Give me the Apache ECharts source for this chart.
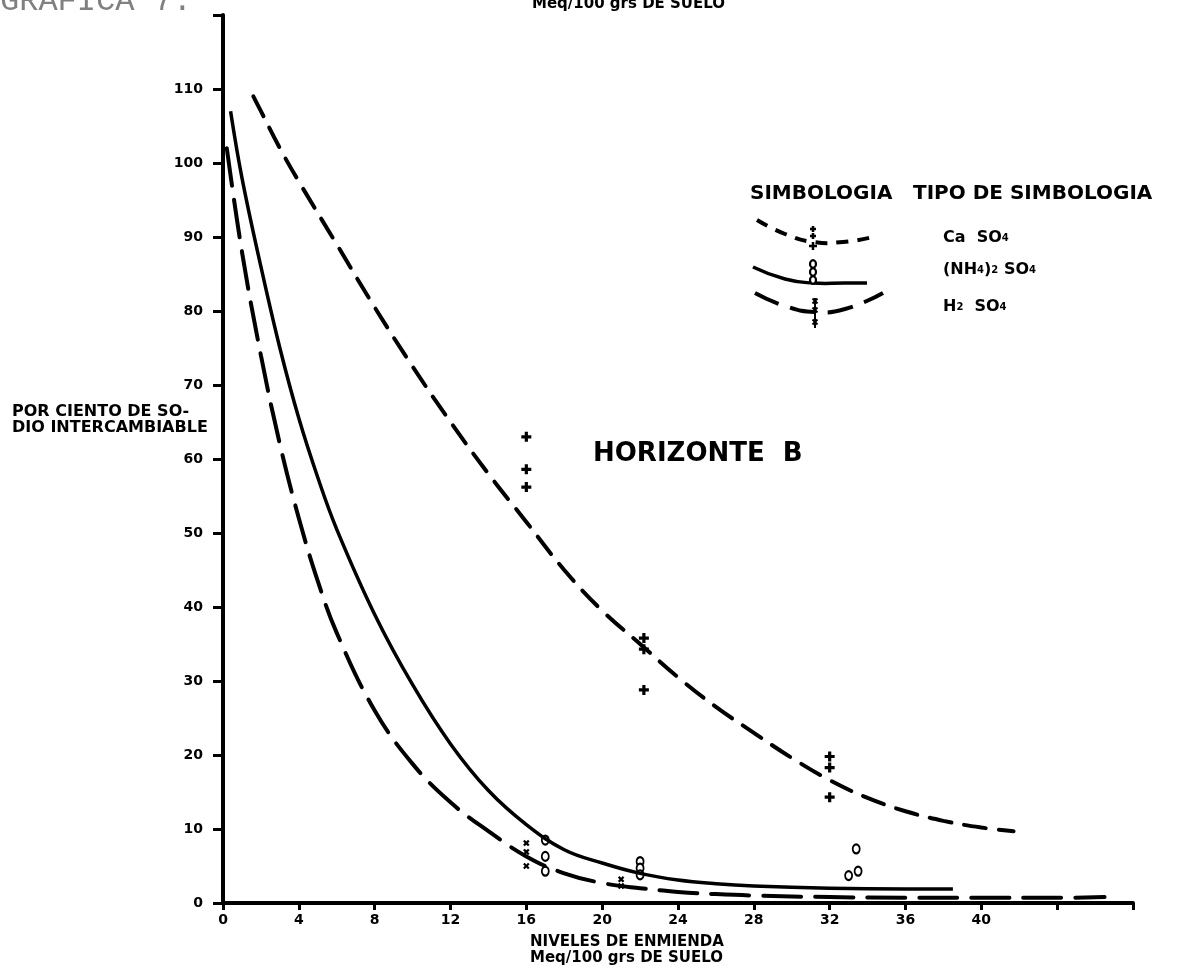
<!DOCTYPE html>
<html>
<head>
<meta charset="utf-8">
<script src="https://cdn.jsdelivr.net/npm/echarts@6/dist/echarts.min.js"></script>
<style>
  html, body { margin: 0; padding: 0; background: #fff; }
  #chart { width: 1194px; height: 975px; }
</style>
</head>
<body>
<div id="chart"></div>
<script>
// tick labels shown on the axes
const xTicks = [0, 4, 8, 12, 16, 20, 24, 28, 32, 36, 40];
const yTicks = [0, 10, 20, 30, 40, 50, 60, 70, 80, 90, 100, 110];

// fitted curves: [nivel de enmienda, % sodio]
const caCurve = [[1.6, 109], [2, 107], [3, 102], [4, 97.5], [6, 89], [8, 80.5], [10, 72.5], [12, 65], [14, 58], [16, 51.5], [18, 45], [20, 39.5], [22, 35], [24, 30.5], [26, 26.5], [28, 23], [30, 19.6], [32, 16.6], [34, 14.2], [36, 12.4], [38, 11.1], [40, 10.2], [41.7, 9.7]];
const nhCurve = [[0.4, 107], [1, 98], [2, 86], [3, 75], [4, 65.5], [5, 57.5], [6, 50.5], [8, 39], [10, 29.5], [12, 21.5], [14, 15.2], [16, 10.6], [18, 7.2], [20, 5.4], [22, 4.0], [24, 3.1], [26, 2.6], [28, 2.3], [32, 2.0], [36, 1.9], [38.5, 1.9]];
const h2Curve = [[0.2, 102], [1, 88], [2, 74], [3, 62], [4, 52], [5, 43.5], [6, 36.5], [8, 26], [10, 18.8], [12, 13.6], [14, 9.7], [16, 6.3], [18, 4.0], [20, 2.7], [22, 2.0], [24, 1.5], [26, 1.2], [28, 1.0], [32, 0.8], [36, 0.7], [40, 0.7], [44, 0.7], [46.5, 0.8]];

// measured points
const caPoints = [[16, 63], [16, 58.6], [16, 56.2], [22.2, 35.8], [22.2, 34.3], [22.2, 28.8], [32, 19.8], [32, 18.3], [32, 14.3]];
const nhPoints = [[17, 8.5], [17, 6.3], [17, 4.3], [22, 5.6], [22, 4.7], [22, 3.8], [33.4, 7.3], [33, 3.7], [33.5, 4.3]];
const h2Points = [[16, 8.1], [16, 6.9], [16, 5.0], [21, 3.2], [21, 2.3]];

const FONT = "DejaVu Sans";
const PLUS = "path://M-1.6,-5L1.6,-5L1.6,-1.6L5,-1.6L5,1.6L1.6,1.6L1.6,5L-1.6,5L-1.6,1.6L-5,1.6L-5,-1.6L-1.6,-1.6Z";

function txt(x, y, text, size, extra) {
  return {
    type: "text", x: x, y: y,
    style: Object.assign({
      text: text, fontFamily: FONT, fontWeight: "bold", fontSize: size,
      fill: "#000", align: "left", verticalAlign: "middle"
    }, extra || {})
  };
}
function plusMark(x, y, s) {
  return { type: "group", x: x, y: y, children: [
    { type: "line", shape: { x1: -s, y1: 0, x2: s, y2: 0 }, style: { stroke: "#000", lineWidth: 2.5 } },
    { type: "line", shape: { x1: 0, y1: -s, x2: 0, y2: s }, style: { stroke: "#000", lineWidth: 2.5 } }
  ] };
}
function xMark(x, y, s) {
  return { type: "group", x: x, y: y, children: [
    { type: "line", shape: { x1: -s, y1: -s, x2: s, y2: s }, style: { stroke: "#000", lineWidth: 2 } },
    { type: "line", shape: { x1: -s, y1: s, x2: s, y2: -s }, style: { stroke: "#000", lineWidth: 2 } }
  ] };
}
function oMark(x, y) {
  return { type: "ellipse", shape: { cx: x, cy: y, rx: 3, ry: 3.8 }, style: { fill: "#fff", stroke: "#000", lineWidth: 2.2 } };
}
const sub = { fontFamily: FONT, fontWeight: "bold", fontSize: 10, fill: "#000" };
const big = { fontFamily: FONT, fontWeight: "bold", fontSize: 16, fill: "#000" };

const chart = echarts.init(document.getElementById("chart"));
const option = {
  backgroundColor: "#fff",
  animation: false,
  grid: { left: 223, right: 61, top: 15, bottom: 72 },
  xAxis: {
    type: "value", min: 0, max: 48, interval: 4,
    axisLine: { lineStyle: { color: "#000", width: 4 } },
    axisTick: { length: 7, lineStyle: { color: "#000", width: 3 } },
    axisLabel: {
      margin: 10, color: "#000", fontFamily: FONT, fontWeight: "bold", fontSize: 14,
      formatter: function (v) { return xTicks.indexOf(v) >= 0 ? String(v) : ""; }
    },
    splitLine: { show: false }
  },
  yAxis: {
    type: "value", min: 0, max: 120, interval: 10,
    axisLine: { show: true, lineStyle: { color: "#000", width: 4 } },
    axisTick: { show: true, length: 10, lineStyle: { color: "#000", width: 3 } },
    axisLabel: {
      margin: 20, color: "#000", fontFamily: FONT, fontWeight: "bold", fontSize: 14,
      formatter: function (v) { return yTicks.indexOf(v) >= 0 ? String(v) : ""; }
    },
    splitLine: { show: false }
  },
  series: [
    { name: "Ca SO4", type: "line", data: caCurve, smooth: 0.4, showSymbol: false,
      lineStyle: { color: "#000", width: 4, type: [22, 13], cap: "round" } },
    { name: "(NH4)2 SO4", type: "line", data: nhCurve, smooth: 0.4, showSymbol: false,
      lineStyle: { color: "#000", width: 3.5 } },
    { name: "H2 SO4", type: "line", data: h2Curve, smooth: 0.4, showSymbol: false,
      lineStyle: { color: "#000", width: 4, type: [38, 14], cap: "round" } },
    { name: "Ca SO4 puntos", type: "scatter", data: caPoints, symbol: PLUS, symbolSize: 10,
      itemStyle: { color: "#000", opacity: 1 } },
    { name: "(NH4)2 SO4 puntos", type: "scatter", data: nhPoints, symbol: "emptyCircle", symbolSize: [7, 9],
      itemStyle: { color: "#000", borderColor: "#000", borderWidth: 2.2, opacity: 1 } },
    { name: "H2 SO4 puntos", type: "scatter", data: h2Points, symbol: PLUS, symbolSize: 7, symbolRotate: 45,
      itemStyle: { color: "#000", opacity: 1 } }
  ],
  graphic: [
    txt(0, 2, "GRAFICA 7.", 32, { fontFamily: "Liberation Mono", fontWeight: "normal", fill: "#808080" }),
    txt(532, 4, "Meq/100 grs DE SUELO", 15),
    txt(12, 412, "POR CIENTO DE SO-", 16),
    txt(12, 428, "DIO INTERCAMBIABLE", 16),
    txt(530, 942, "NIVELES DE ENMIENDA", 15),
    txt(530, 958, "Meq/100 grs DE SUELO", 15),
    txt(593, 454, "HORIZONTE  B", 26),
    txt(750, 194, "SIMBOLOGIA", 20),
    txt(913, 194, "TIPO DE SIMBOLOGIA", 20),
    // legend samples
    { type: "polyline", shape: { points: [[757, 220], [785, 234], [813, 242], [843, 242], [873, 237]], smooth: 0.5 },
      style: { stroke: "#000", lineWidth: 4, lineDash: [12, 9], fill: null } },
    plusMark(813, 229, 3), plusMark(813, 236, 3), plusMark(813, 246, 4),
    { type: "polyline", shape: { points: [[753, 267], [785, 279], [813, 283], [845, 283], [867, 283]], smooth: 0.5 },
      style: { stroke: "#000", lineWidth: 3.5, fill: null } },
    oMark(813, 264), oMark(813, 272), oMark(813, 280),
    { type: "polyline", shape: { points: [[755, 293], [785, 306], [815, 312], [845, 309], [883, 293]], smooth: 0.5 },
      style: { stroke: "#000", lineWidth: 4, lineDash: [26, 12], fill: null } },
    xMark(815, 301, 2.5), xMark(815, 310, 2.5), xMark(815, 322, 2.5),
    { type: "line", shape: { x1: 815, y1: 298, x2: 815, y2: 328 }, style: { stroke: "#000", lineWidth: 2 } },
    { type: "text", x: 943, y: 238, style: { text: "{b|Ca  SO}{s|4}", rich: { b: big, s: sub }, verticalAlign: "middle" } },
    { type: "text", x: 943, y: 270, style: { text: "{b|(NH}{s|4}{b|)}{s|2}{b| SO}{s|4}", rich: { b: big, s: sub }, verticalAlign: "middle" } },
    { type: "text", x: 943, y: 307, style: { text: "{b|H}{s|2}{b|  SO}{s|4}", rich: { b: big, s: sub }, verticalAlign: "middle" } }
  ]
};
chart.setOption(option);
</script>
</body>
</html>
